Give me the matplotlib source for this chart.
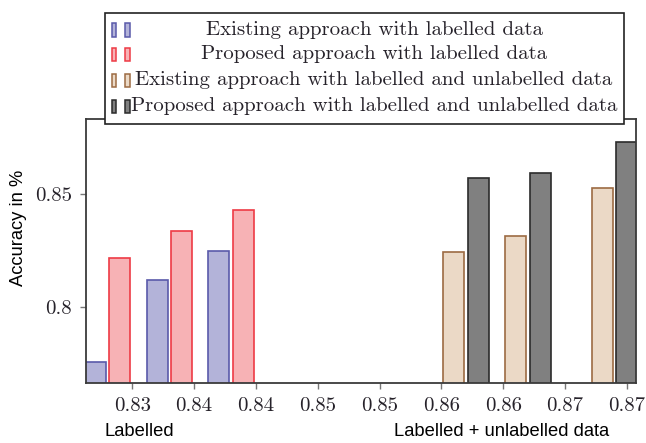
import numpy as np
import matplotlib.pyplot as plt
from matplotlib.patches import Rectangle

# data (bar heights = accuracy)
lab_pos = [0.828, 0.833, 0.838]
lab_existing = [0.7758, 0.8118, 0.8249]
lab_proposed = [0.8218, 0.8335, 0.8429]

lu_pos = [0.857, 0.862, 0.869]
lu_existing = [0.8245, 0.8313, 0.8528]
lu_proposed = [0.8571, 0.8593, 0.8733]

xticks = [0.83, 0.835, 0.84, 0.845, 0.85, 0.855, 0.86, 0.865, 0.87]
xtick_labels = ['0.83', '0.84', '0.84', '0.85', '0.85', '0.86', '0.86', '0.87', '0.87']
yticks = [0.8, 0.85]
ytick_labels = ['0.8', '0.85']

legend_labels = ['Existing approach with labelled data',
                 'Proposed approach with labelled data',
                 'Existing approach with labelled and unlabelled data',
                 'Proposed approach with labelled and unlabelled data']

# fill / edge colours
fills = ['#b3b3d9', '#f7b2b5', '#ebd9c6', '#808080']
edges = ['#5a5aaa', '#ee3b45', '#9c6b43', '#2b2b2b']

W, H = 646, 443
fig = plt.figure(figsize=(W / 100, H / 100), dpi=100)

def fx(px):
    return px / W

def fy(py):
    return 1 - py / H

ax = fig.add_axes([fx(86), fy(383), fx(636) - fx(86), fy(119) - fy(383)])

bw = 0.0017
off = 0.001
ax.bar(np.array(lab_pos) - off, lab_existing, bw, color=fills[0], edgecolor=edges[0], lw=1.2)
ax.bar(np.array(lab_pos) + off, lab_proposed, bw, color=fills[1], edgecolor=edges[1], lw=1.2)
ax.bar(np.array(lu_pos) - off, lu_existing, bw, color=fills[2], edgecolor=edges[2], lw=1.2)
ax.bar(np.array(lu_pos) + off, lu_proposed, bw, color=fills[3], edgecolor=edges[3], lw=1.2)

ax.set_xlim(0.82625, 0.87075)
ax.set_ylim(0.7663, 0.8834)

txtcol = '#26222a'
ax.set_xticks(xticks)
ax.set_xticklabels(xtick_labels, fontfamily='cmr10', fontsize=15, color=txtcol)
ax.set_yticks(yticks)
ax.set_yticklabels(ytick_labels, fontfamily='cmr10', fontsize=15, color=txtcol)
ax.tick_params(direction='out', length=4, width=1, color='#777777', pad=6)
for s in ax.spines.values():
    s.set_color('#3a3a3a')
    s.set_linewidth(1.3)

# axis labels (sans)
fig.text(fx(19), fy(228), 'Accuracy in %', rotation=90, ha='center', va='center',
         fontfamily='Liberation Sans', fontsize=13.2)
fig.text(fx(139), fy(432), 'Labelled', ha='center', va='center',
         fontfamily='Liberation Sans', fontsize=13.2)
fig.text(fx(502), fy(432), 'Labelled + unlabelled data', ha='center', va='center',
         fontfamily='Liberation Sans', fontsize=13.2)

# legend box, pgfplots style
fig.add_artist(Rectangle((fx(105), fy(124)), fx(624) - fx(105), fy(13) - fy(124),
                         transform=fig.transFigure, facecolor='white',
                         edgecolor='#222222', lw=1.2))
row_y = [30, 54, 80, 106]
for yy, lab, fc, ec in zip(row_y, legend_labels, fills, edges):
    for hx in (111.5, 125):
        fig.add_artist(Rectangle((fx(hx), fy(yy + 6.5)), fx(4.5), fy(0) - fy(13),
                                 transform=fig.transFigure, facecolor=fc,
                                 edgecolor=ec, lw=1.1))
    fig.text(fx(374), fy(yy), lab, ha='center', va='center',
             fontfamily='cmr10', fontsize=15, color=txtcol)

fig.savefig('out.png', dpi=100)
